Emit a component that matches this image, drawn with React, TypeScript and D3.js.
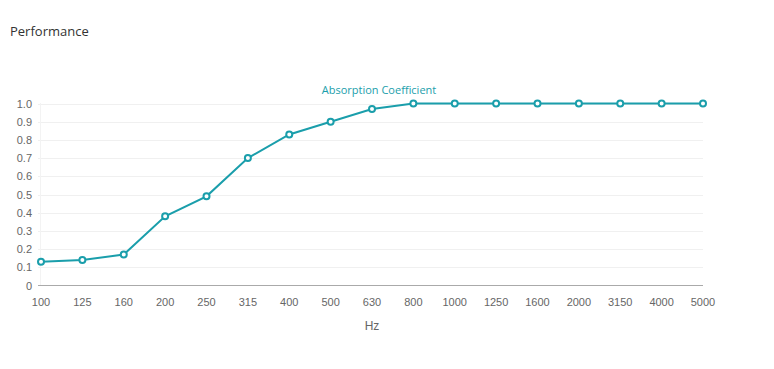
import React, { useEffect, useRef } from 'react';
import * as d3 from 'd3';

const frequencies = ['100', '125', '160', '200', '250', '315', '400', '500', '630', '800', '1000', '1250', '1600', '2000', '3150', '4000', '5000'];
const absorption = [0.13, 0.14, 0.17, 0.38, 0.49, 0.7, 0.83, 0.9, 0.97, 1, 1, 1, 1, 1, 1, 1, 1];
const yTicks = [0, 0.1, 0.2, 0.3, 0.4, 0.5, 0.6, 0.7, 0.8, 0.9, 1.0];

const width = 774;
const height = 369;
const color = '#1a9eab';

const App: React.FC = () => {
  const svgRef = useRef<SVGSVGElement>(null);

  useEffect(() => {
    if (!svgRef.current) return;
    const svg = d3.select(svgRef.current);
    svg.selectAll('*').remove();

    const x = d3.scalePoint<string>().domain(frequencies).range([41, 703]);
    const y = d3.scaleLinear().domain([0, 1]).range([285.5, 103.5]);

    // title
    svg.append('text')
      .attr('x', 10).attr('y', 36)
      .attr('font-family', '"Open Sans", sans-serif')
      .attr('font-size', 13)
      .attr('fill', '#333')
      .text('Performance');

    // grid
    svg.append('g')
      .selectAll('line')
      .data(yTicks.slice(1))
      .enter()
      .append('line')
      .attr('x1', 38).attr('x2', 703)
      .attr('y1', d => Math.round(y(d)) + 0.5).attr('y2', d => Math.round(y(d)) + 0.5)
      .attr('stroke', '#f0f0f0');

    svg.append('line')
      .attr('x1', 40.5).attr('x2', 40.5)
      .attr('y1', 103).attr('y2', 285)
      .attr('stroke', '#f3f3f3');

    // y labels
    svg.append('g')
      .selectAll('text')
      .data(yTicks)
      .enter()
      .append('text')
      .attr('x', 32)
      .attr('y', d => y(d) + 4)
      .attr('text-anchor', 'end')
      .attr('font-family', 'Arial, "Liberation Sans", sans-serif')
      .attr('font-size', 11)
      .attr('fill', '#666')
      .text(d => (d === 0 ? '0' : d.toFixed(1)));

    // x axis line
    svg.append('line')
      .attr('x1', 38).attr('x2', 703)
      .attr('y1', 285.5).attr('y2', 285.5)
      .attr('stroke', '#aaa');

    // x labels
    svg.append('g')
      .selectAll('text')
      .data(frequencies)
      .enter()
      .append('text')
      .attr('x', d => x(d)!)
      .attr('y', 306)
      .attr('text-anchor', 'middle')
      .attr('font-family', 'Arial, "Liberation Sans", sans-serif')
      .attr('font-size', 11)
      .attr('fill', '#666')
      .text(d => d);

    svg.append('text')
      .attr('x', 372).attr('y', 330)
      .attr('text-anchor', 'middle')
      .attr('font-family', 'Arial, "Liberation Sans", sans-serif')
      .attr('font-size', 12)
      .attr('fill', '#666')
      .text('Hz');

    // legend
    svg.append('text')
      .attr('x', 379).attr('y', 94)
      .attr('text-anchor', 'middle')
      .attr('font-family', '"Open Sans", sans-serif')
      .attr('font-size', 11)
      .attr('fill', color)
      .text('Absorption Coefficient');

    const line = d3.line<number>()
      .x((_, i) => x(frequencies[i])!)
      .y(d => y(d));

    svg.append('path')
      .datum(absorption)
      .attr('d', line)
      .attr('fill', 'none')
      .attr('stroke', color)
      .attr('stroke-width', 2);

    svg.append('g')
      .selectAll('circle')
      .data(absorption)
      .enter()
      .append('circle')
      .attr('cx', (_, i) => x(frequencies[i])!)
      .attr('cy', d => y(d))
      .attr('r', 3)
      .attr('fill', '#fff')
      .attr('stroke', color)
      .attr('stroke-width', 2);
  }, []);

  return <svg ref={svgRef} width={width} height={height} style={{ position: 'absolute', left: 0, top: 0 }} />;
};

export default App;
